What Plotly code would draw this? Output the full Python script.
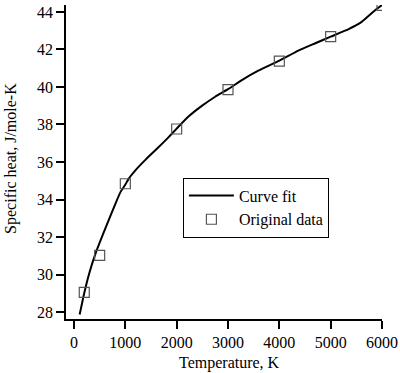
import plotly.graph_objects as go

# Original data
data_T = [200, 500, 1000, 2000, 3000, 4000, 5000, 6000]
data_cp = [29.05, 31.02, 34.84, 37.76, 39.86, 41.38, 42.68, 44.35]

# Curve fit
fit_T = [110, 200, 300, 420, 500, 650, 810, 910, 1000, 1070, 1200, 1400, 1625, 1820,
         2000, 2230, 2490, 2750, 3000, 3270, 3590, 4000, 4370, 4700, 5000, 5350, 5610,
         5870, 6000]
fit_cp = [27.87, 29.02, 30.1, 31.13, 31.7, 32.73, 33.8, 34.42, 34.8, 35.13, 35.57, 36.14,
          36.73, 37.26, 37.78, 38.42, 38.99, 39.48, 39.88, 40.37, 40.87, 41.4, 41.94,
          42.33, 42.68, 43.08, 43.48, 44.1, 44.37]

x_ticks = [0, 1000, 2000, 3000, 4000, 5000, 6000]
y_ticks = [28, 30, 32, 34, 36, 38, 40, 42, 44]

x_title = "Temperature, K"
y_title = "Specific heat, J/mole-K"

FONT = "Liberation Serif, Times New Roman, serif"
tfont = dict(family=FONT, size=16, color="black")

fig = go.Figure()
fig.add_trace(go.Scatter(x=fit_T, y=fit_cp, mode="lines", name="Curve fit",
                         line=dict(color="black", width=2, shape="spline", smoothing=0.4)))
fig.add_trace(go.Scatter(x=data_T, y=data_cp, mode="markers", name="Original data",
                         marker=dict(symbol="square-open", size=10, color="#555555",
                                     line=dict(width=1.2, color="#555555"))))

fig.update_layout(
    width=400, height=373,
    margin=dict(l=66, r=18, t=5, b=54),
    paper_bgcolor="white", plot_bgcolor="white",
    font=tfont,
    legend=dict(x=0.37, y=0.355, xanchor="left", yanchor="middle",
                bordercolor="black", borderwidth=1, bgcolor="white",
                font=dict(family=FONT, size=16, color="black"), tracegroupgap=0,
                itemwidth=45),
    xaxis=dict(range=[-156, 6000], tickvals=x_ticks, ticks="outside", ticklen=8,
               tickwidth=1.5, tickcolor="black", showline=True, linecolor="black",
               linewidth=1.5, showgrid=False, zeroline=False, tickfont=tfont,
               automargin=False),
    yaxis=dict(range=[27.63, 44.37], tickvals=y_ticks, ticks="outside", ticklen=8,
               tickwidth=1.5, tickcolor="black", showline=True, linecolor="black",
               linewidth=1.5, showgrid=False, zeroline=False, tickfont=tfont,
               automargin=False),
    annotations=[
        dict(text=x_title, xref="paper", yref="paper", x=0.516, y=-0.14,
             xanchor="center", yanchor="middle", showarrow=False, font=tfont),
        dict(text=y_title, xref="paper", yref="paper", x=-0.174, y=0.51,
             xanchor="center", yanchor="middle", showarrow=False, font=tfont,
             textangle=-90),
    ],
)

fig.write_html("out.html", post_script="document.body.style.margin='0';",
               config={"displayModeBar": False})
